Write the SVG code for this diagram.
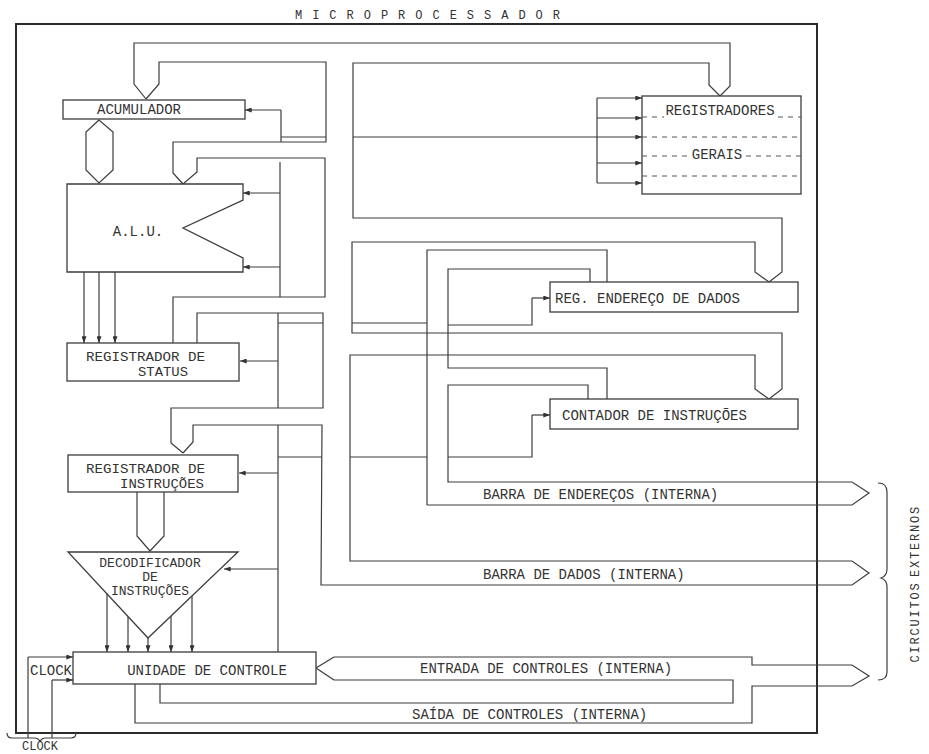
<svg xmlns="http://www.w3.org/2000/svg" width="929" height="754" viewBox="0 0 929 754">
<defs>
<style>
.ln{fill:none;stroke:#3c3c3c;stroke-width:1.2}
.bx{fill:#fff;stroke:#3c3c3c;stroke-width:1.3}
.fr{fill:none;stroke:#2a2a2a;stroke-width:2}
.ds{fill:none;stroke:#555;stroke-width:1;stroke-dasharray:5,5}
.t{font-family:"Liberation Mono","DejaVu Sans Mono",monospace;font-size:14px;fill:#333}
.m{font-family:"Liberation Mono","DejaVu Sans Mono",monospace;font-size:13px;fill:#333}
.s{font-family:"Liberation Mono","DejaVu Sans Mono",monospace;font-size:12px;fill:#333}
.ar{marker-end:url(#ah)}
</style>
<marker id="ah" viewBox="0 0 8 6" refX="8" refY="3" markerWidth="7" markerHeight="5" markerUnits="userSpaceOnUse" orient="auto">
<path d="M0,0 L8,3 L0,6 Z" fill="#333"/>
</marker>
</defs>
<rect x="0" y="0" width="929" height="754" fill="#fff"/>

<g id="frame">
<rect class="fr" x="16" y="24" width="801" height="709"/>
<text class="s" x="295" y="19" textLength="265" lengthAdjust="spacing">M I C R O P R O C E S S A D O R</text>
</g>

<g id="connectors">
<path class="ln" d="M146,99 L134,84 L134,43 L730,43 L730,86 L720,96"/>
<path class="ln" d="M146,99 L159,84 L159,62 L326,62 L326,142 L173,142 L173,173 L183,184"/>
<path class="ln" d="M720,96 L709,85 L709,63 L353,63 L353,218 L782,218 L782,272 L769,282"/>
<path class="ln" d="M769,282 L755,272 L755,242 L352,242 L352,333 L782,333 L782,389 L769,399"/>
<path class="ln" d="M769,399 L755,389 L755,355 L350,355 L350,561 L852,561 L869,573 L852,585 L321,585 L322,425 L193,425 L193,442 L183,453"/>
<path class="ln" d="M183,453 L171,443 L171,408 L323,408 L323,313 L197,313 L197,343"/>
<path class="ln" d="M173,343 L173,297 L325,297 L325,158 L197,158 L197,172 L183,184"/>
<path class="ln" d="M281,142 L281,110"/>
<path class="ln ar" d="M281,110 L245,110"/>
<path class="ln" d="M281,137 L326,137"/>
<path class="ln" d="M280,162 L280,297"/>
<path class="ln ar" d="M280,193 L243,193"/>
<path class="ln ar" d="M280,267 L243,267"/>
<path class="ln" d="M278,313 L278,408 M278,323 L323,323"/>
<path class="ln ar" d="M278,361 L240,361"/>
<path class="ln" d="M278,425 L278,652 M278,457 L322,457"/>
<path class="ln ar" d="M278,473 L239,473"/>
<path class="ln ar" d="M278,569 L224,569"/>
<path class="ln ar" d="M353,137 L642,137"/>
<path class="ln" d="M597,98 L597,183"/>
<path class="ln ar" d="M597,98 L642,98"/>
<path class="ln ar" d="M597,118 L642,118"/>
<path class="ln ar" d="M597,163 L642,163"/>
<path class="ln ar" d="M597,183 L642,183"/>
<path class="ln" d="M427,505 L427,250 L607,250 L607,282"/>
<path class="ln" d="M590,282 L590,269 L448,269 L448,368 L607,368 L607,399"/>
<path class="ln" d="M448,325 L532,325 L532,298"/>
<path class="ln ar" d="M532,298 L550,298"/>
<path class="ln" d="M588,399 L588,385 L448,385 L448,482 L852,482 L869,493 L852,505 L427,505"/>
<path class="ln" d="M352,323 L427,323 M350,457 L427,457 M448,457 L532,457 L532,415"/>
<path class="ln ar" d="M532,415 L550,415"/>
<path class="ln" d="M334,657 L316,668 L334,680"/>
<path class="ln" d="M334,657 L752,657 L752,665 L852,665 L869,676 L852,686 L752,686 L752,723 L135,723 L135,684"/>
<path class="ln" d="M334,680 L733,680 L733,703 L160,703 L160,684"/>
<path class="ln ar" d="M107,593 L107,652"/>
<path class="ln ar" d="M128,616 L128,652"/>
<path class="ln ar" d="M148,638 L148,652"/>
<path class="ln ar" d="M171,615 L171,652"/>
<path class="ln ar" d="M192,595 L192,652"/>
<path class="ln" d="M137,492 L137,536 L150,551 L164,536 L164,492"/>
<path class="ln ar" d="M84,272 L84,343"/>
<path class="ln ar" d="M99,272 L99,343"/>
<path class="ln ar" d="M115,272 L115,343"/>
<path class="ln" d="M99,120 L86,132 L86,170 L99,183 L113,170 L113,132 Z"/>
<path class="ln" d="M28,738 L28,657"/>
<path class="ln ar" d="M28,657 L73,657"/>
<path class="ln" d="M52,738 L52,680"/>
<path class="ln ar" d="M52,680 L73,680"/>
</g>

<g id="acumulador">
<rect class="bx" x="63" y="100" width="182" height="19"/>
<text class="t" x="139" y="114" text-anchor="middle">ACUMULADOR</text>
</g>

<g id="alu">
<path class="bx" d="M67,184 L243,184 L243,200 L183,228 L243,258 L243,272 L67,272 Z"/>
<text class="t" x="138" y="236" text-anchor="middle">A.L.U.</text>
</g>

<g id="registrador-status">
<rect class="bx" x="67" y="343" width="172" height="38"/>
<text class="m" x="86" y="361" textLength="119" lengthAdjust="spacingAndGlyphs">REGISTRADOR DE</text>
<text class="m" x="138" y="376" textLength="50" lengthAdjust="spacingAndGlyphs">STATUS</text>
</g>

<g id="registrador-instrucoes">
<rect class="bx" x="68" y="455" width="170" height="37"/>
<text class="m" x="86" y="473" textLength="119" lengthAdjust="spacingAndGlyphs">REGISTRADOR DE</text>
<text class="m" x="120" y="488" textLength="84" lengthAdjust="spacingAndGlyphs">INSTRUÇÕES</text>
</g>

<g id="decodificador">
<path class="bx" d="M68,552 L238,552 L148,638 Z"/>
<text class="m" x="150" y="567" text-anchor="middle">DECODIFICADOR</text>
<text class="m" x="150" y="581" text-anchor="middle">DE</text>
<text class="m" x="150" y="595" text-anchor="middle">INSTRUÇÕES</text>
</g>

<g id="unidade-controle">
<rect class="bx" x="73" y="652" width="243" height="32"/>
<text class="t" x="207" y="675" text-anchor="middle">UNIDADE DE CONTROLE</text>
<text class="t" x="30" y="675">CLOCK</text>
</g>

<g id="registradores-gerais">
<rect class="bx" x="642" y="96" width="159" height="98"/>
<path class="ds" d="M642,117 L664,117 M778,117 L801,117 M642,137 L801,137 M642,156 L688,156 M746,156 L801,156 M642,176 L801,176"/>
<text class="t" x="720" y="115" text-anchor="middle">REGISTRADORES</text>
<text class="t" x="717" y="159" text-anchor="middle">GERAIS</text>
</g>

<g id="reg-endereco-dados">
<rect class="bx" x="550" y="282" width="248" height="30"/>
<text class="t" x="555" y="303">REG. ENDEREÇO DE DADOS</text>
</g>

<g id="contador-instrucoes">
<rect class="bx" x="550" y="399" width="248" height="30"/>
<text class="t" x="562" y="420">CONTADOR DE INSTRUÇÕES</text>
</g>

<g id="labels">
<text class="t" x="483" y="499">BARRA DE ENDEREÇOS (INTERNA)</text>
<text class="t" x="483" y="579">BARRA DE DADOS (INTERNA)</text>
<text class="t" x="420" y="673">ENTRADA DE CONTROLES (INTERNA)</text>
<text class="t" x="412" y="719">SAÍDA DE CONTROLES (INTERNA)</text>
<text class="s" x="22" y="750" font-size="11">CLOCK</text>
<path class="ln" d="M7,733 Q7,738 12,738 L34,738 Q39,738 40,742 Q41,738 46,738 L71,738 Q76,738 76,733"/>
<path class="ln" d="M878,483 Q887,483 887,492 L887,569 Q887,576 881,578 Q887,580 887,587 L887,672 Q887,680 878,680"/>
<text class="s" transform="translate(919,541) rotate(-90)" text-anchor="middle" letter-spacing="1.8">EXTERNOS</text>
<text class="s" transform="translate(919,622) rotate(-90)" text-anchor="middle" letter-spacing="1.8">CIRCUITOS</text>
</g>
</svg>
